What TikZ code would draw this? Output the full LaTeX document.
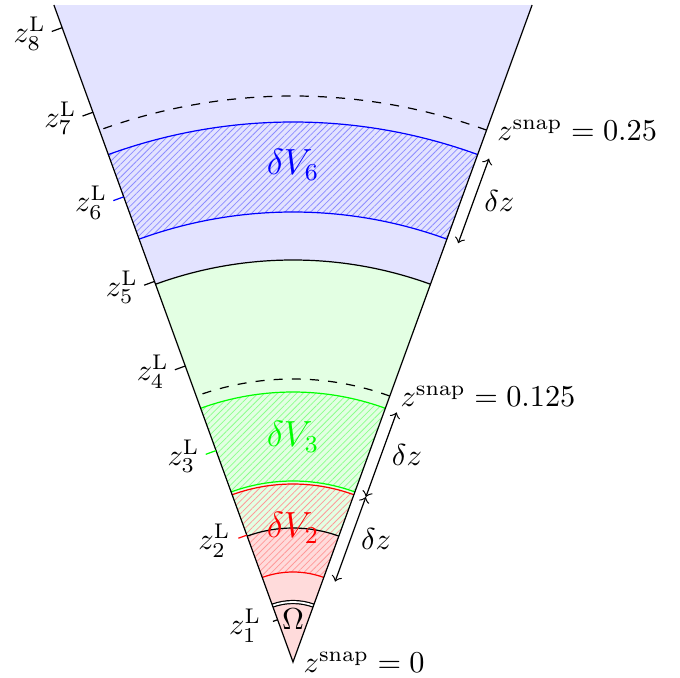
\documentclass[tikz,border=0pt]{standalone}
\usetikzlibrary{patterns.meta,calc}
\begin{document}
\begin{tikzpicture}[x=0.33pt,y=0.33pt,
  fillblue/.style={fill=blue!11},
  fillgreen/.style={fill=green!11},
  fillred/.style={fill=red!14},
  hatch/.style={pattern={Lines[angle=45,distance=1.5pt,line width=0.25pt]},pattern color=#1},
  lbl/.style={anchor=east,inner sep=0pt},
  snaplbl/.style={anchor=west},
  vlbl/.style={font=\large}]
\useasboundingbox (-293,-15) rectangle (387,662);
\coordinate (O) at (0,0);
\coordinate (TL) at (-239.1,657);
\coordinate (TR) at (239.1,657);
% region fills
\fill[fillblue] (O) -- (TL) -- (TR) -- cycle;
\fill[fillgreen] (O) -- (70:402) arc[start angle=70,end angle=110,radius=402] -- cycle;
\fill[fillred] (O) -- (70:134) arc[start angle=70,end angle=110,radius=134] -- cycle;
% hatched shells
\path[hatch=blue!45] (70:450) arc[start angle=70,end angle=110,radius=450] -- (110:540) arc[start angle=110,end angle=70,radius=540] -- cycle;
\path[hatch=green!45] (70:181) arc[start angle=70,end angle=110,radius=181] -- (110:270) arc[start angle=110,end angle=70,radius=270] -- cycle;
\path[hatch=red!40] (70:90) arc[start angle=70,end angle=110,radius=90] -- (110:178) arc[start angle=110,end angle=70,radius=178] -- cycle;
% shell boundaries
\draw[blue] (70:450) arc[start angle=70,end angle=110,radius=450];
\draw[blue] (70:540) arc[start angle=70,end angle=110,radius=540];
\draw[green] (70:181) arc[start angle=70,end angle=110,radius=181];
\draw[green] (70:270) arc[start angle=70,end angle=110,radius=270];
\draw[red] (70:90) arc[start angle=70,end angle=110,radius=90];
\draw[red] (70:178) arc[start angle=70,end angle=110,radius=178];
\draw (70:134) arc[start angle=70,end angle=110,radius=134];
\draw (70:402) arc[start angle=70,end angle=110,radius=402];
\draw[dashed] (70:283) arc[start angle=70,end angle=110,radius=283];
\draw[dashed] (70:566) arc[start angle=70,end angle=110,radius=566];
\draw[double,double distance=0.6pt] (70:60) arc[start angle=70,end angle=110,radius=60];
% cone edges
\draw (TL) -- (O) -- (TR);
% ticks and labels
\foreach \r/\c/\l/\i in {45/black/5/1,135/red/9/2,225/green/11/3,315/black/11/4,405/black/11/5,495/blue/11/6,585/black/11/7,675/black/11/8}{
  \draw[\c] (110:\r) -- ++(200:\l);
  \node[lbl] (zL\i) at ($(110:\r)+(200:17)$) {$z^{\mathrm{L}}_{\i}$};
}
% shell labels
\node[vlbl,blue] (dV6) at (90:497) {$\delta V_6$};
\node[vlbl,green] (dV3) at (90:225) {$\delta V_3$};
\node[vlbl,red] (dV2) at (90:134) {$\delta V_2$};
\node (Om) at (90:43) {$\Omega$};
% snapshot labels
\node[snaplbl] (s0) at (O) {$z^{\mathrm{snap}}=0$};
\node[snaplbl] (s1) at (70:283) {$z^{\mathrm{snap}}=0.125$};
\node[snaplbl] (s2) at (70:566) {$z^{\mathrm{snap}}=0.25$};
% delta z arrows
\coordinate (a1) at ($(70:90)+(-20:12)$);
\coordinate (b1) at ($(70:180)+(-20:12)$);
\coordinate (a2) at ($(70:180)+(-20:12)$);
\coordinate (b2) at ($(70:270)+(-20:12)$);
\coordinate (a3) at ($(70:450)+(-20:12)$);
\coordinate (b3) at ($(70:540)+(-20:12)$);
\draw[<->] (a1) -- (b1) node[midway,right] (dz1) {$\delta z$};
\draw[<->] (a2) -- (b2) node[midway,right] (dz2) {$\delta z$};
\draw[<->] (a3) -- (b3) node[midway,right] (dz3) {$\delta z$};
\end{tikzpicture}
\end{document}
